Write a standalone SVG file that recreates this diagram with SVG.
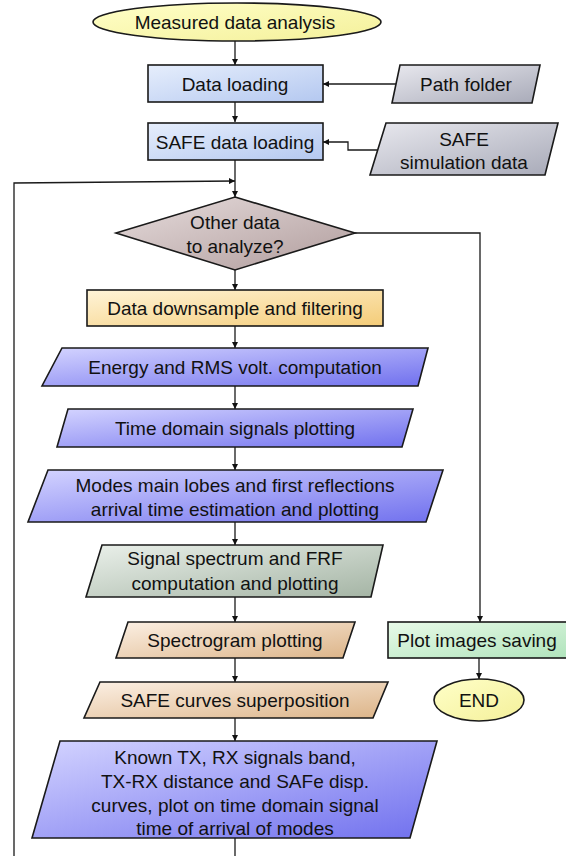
<svg xmlns="http://www.w3.org/2000/svg" width="566" height="856" viewBox="0 0 566 856">
  <defs>
    <linearGradient id="gYellow" x1="0" y1="0" x2="1" y2="1">
      <stop offset="0" stop-color="#ffffc8"/>
      <stop offset="1" stop-color="#f4f09a"/>
    </linearGradient>
    <linearGradient id="gLightBlue" x1="0" y1="0" x2="1" y2="1">
      <stop offset="0" stop-color="#e6eefc"/>
      <stop offset="1" stop-color="#b4c8f0"/>
    </linearGradient>
    <linearGradient id="gGray" x1="0" y1="0" x2="1" y2="1">
      <stop offset="0" stop-color="#e8e8ee"/>
      <stop offset="1" stop-color="#a8aab8"/>
    </linearGradient>
    <linearGradient id="gMauve" x1="0" y1="0" x2="1" y2="1">
      <stop offset="0" stop-color="#e6dcdc"/>
      <stop offset="1" stop-color="#b09c9c"/>
    </linearGradient>
    <linearGradient id="gOrange" x1="0" y1="0" x2="1" y2="1">
      <stop offset="0" stop-color="#fff4d8"/>
      <stop offset="1" stop-color="#f4cc78"/>
    </linearGradient>
    <linearGradient id="gViolet" x1="0" y1="0" x2="1" y2="1">
      <stop offset="0" stop-color="#d4d4ff"/>
      <stop offset="1" stop-color="#7070ee"/>
    </linearGradient>
    <linearGradient id="gSage" x1="0" y1="0" x2="1" y2="1">
      <stop offset="0" stop-color="#eaf0ea"/>
      <stop offset="1" stop-color="#a4b4a4"/>
    </linearGradient>
    <linearGradient id="gPeach" x1="0" y1="0" x2="1" y2="1">
      <stop offset="0" stop-color="#fcf0e4"/>
      <stop offset="1" stop-color="#dcb488"/>
    </linearGradient>
    <linearGradient id="gGreen" x1="0" y1="0" x2="1" y2="1">
      <stop offset="0" stop-color="#e8fae8"/>
      <stop offset="1" stop-color="#b0e4bc"/>
    </linearGradient>
    <marker id="arrow" viewBox="0 0 8 8" refX="8" refY="4" markerWidth="6" markerHeight="6" markerUnits="userSpaceOnUse" orient="auto">
      <path d="M0,0 L8,4 L0,8 Z" fill="#111"/>
    </marker>
  </defs>
  <style>
    .shape { stroke: #1a1a1a; stroke-width: 1.6; }
    .lbl { font-family: "Liberation Sans", Arial, sans-serif; font-size: 19px; fill: #111; text-anchor: middle; }
    .conn { fill: none; stroke: #1a1a1a; stroke-width: 1.3; }
  </style>

  <rect width="566" height="856" fill="#ffffff"/>

  <!-- connectors -->
  <g id="connectors">
    <path class="conn" d="M235,41 V65" marker-end="url(#arrow)"/>
    <path class="conn" d="M235,102 V122" marker-end="url(#arrow)"/>
    <path class="conn" d="M396,84 H323" marker-end="url(#arrow)"/>
    <path class="conn" d="M377,150 H348 V142 H323" marker-end="url(#arrow)"/>
    <path class="conn" d="M235,160 V197" marker-end="url(#arrow)"/>
    <path class="conn" d="M14,856 V183 L235,181" marker-end="url(#arrow)"/>
    <path class="conn" d="M235,270 V290" marker-end="url(#arrow)"/>
    <path class="conn" d="M355,233 H480 V622" marker-end="url(#arrow)"/>
    <path class="conn" d="M235,326 V348" marker-end="url(#arrow)"/>
    <path class="conn" d="M235,386 V409" marker-end="url(#arrow)"/>
    <path class="conn" d="M235,447 V470" marker-end="url(#arrow)"/>
    <path class="conn" d="M235,522 V545" marker-end="url(#arrow)"/>
    <path class="conn" d="M235,597 V622" marker-end="url(#arrow)"/>
    <path class="conn" d="M235,658 V682" marker-end="url(#arrow)"/>
    <path class="conn" d="M235,718 V741" marker-end="url(#arrow)"/>
    <path class="conn" d="M235,838 V856"/>
    <path class="conn" d="M479,658 V679" marker-end="url(#arrow)"/>
  </g>

  <g id="start">
    <ellipse class="shape" cx="237" cy="22" rx="144" ry="19" fill="url(#gYellow)"/>
    <text class="lbl" x="235" y="29">Measured data analysis</text>
  </g>

  <g id="data-loading">
    <rect class="shape" x="148" y="65" width="175" height="37" fill="url(#gLightBlue)"/>
    <text class="lbl" x="235" y="91">Data loading</text>
  </g>

  <g id="path-folder">
    <polygon class="shape" points="400,65 540,65 532,103 392,103" fill="url(#gGray)"/>
    <text class="lbl" x="466" y="91">Path folder</text>
  </g>

  <g id="safe-loading">
    <rect class="shape" x="148" y="123" width="175" height="37" fill="url(#gLightBlue)"/>
    <text class="lbl" x="235" y="149">SAFE data loading</text>
  </g>

  <g id="safe-simulation">
    <polygon class="shape" points="386,123 558,123 545,175 370,175" fill="url(#gGray)"/>
    <text class="lbl" x="464" y="146">SAFE</text>
    <text class="lbl" x="464" y="169">simulation data</text>
  </g>

  <g id="decision">
    <polygon class="shape" points="235,197 355,233 235,270 116,233" fill="url(#gMauve)"/>
    <text class="lbl" x="235" y="229">Other data</text>
    <text class="lbl" x="235" y="253">to analyze?</text>
  </g>

  <g id="downsample">
    <rect class="shape" x="87" y="290" width="296" height="36" fill="url(#gOrange)"/>
    <text class="lbl" x="235" y="315">Data downsample and filtering</text>
  </g>

  <g id="energy-rms">
    <polygon class="shape" points="62,348 428,348 418,386 42,386" fill="url(#gViolet)"/>
    <text class="lbl" x="235" y="374">Energy and RMS volt. computation</text>
  </g>

  <g id="time-domain">
    <polygon class="shape" points="68,409 413,409 402,447 57,447" fill="url(#gViolet)"/>
    <text class="lbl" x="235" y="435">Time domain signals plotting</text>
  </g>

  <g id="modes-arrival">
    <polygon class="shape" points="48,470 443,470 426,522 28,522" fill="url(#gViolet)"/>
    <text class="lbl" x="235" y="492">Modes main lobes and first reflections</text>
    <text class="lbl" x="235" y="516">arrival time estimation and plotting</text>
  </g>

  <g id="spectrum-frf">
    <polygon class="shape" points="102,545 383,545 371,597 86,597" fill="url(#gSage)"/>
    <text class="lbl" x="235" y="565">Signal spectrum and FRF</text>
    <text class="lbl" x="235" y="590">computation and plotting</text>
  </g>

  <g id="spectrogram">
    <polygon class="shape" points="128,622 355,622 343,658 116,658" fill="url(#gPeach)"/>
    <text class="lbl" x="235" y="647">Spectrogram plotting</text>
  </g>

  <g id="safe-curves">
    <polygon class="shape" points="100,682 388,682 373,718 84,718" fill="url(#gPeach)"/>
    <text class="lbl" x="235" y="707">SAFE curves superposition</text>
  </g>

  <g id="known-tx-rx">
    <polygon class="shape" points="60,741 437,741 410,838 32,838" fill="url(#gViolet)"/>
    <text class="lbl" x="235" y="764">Known TX, RX signals band,</text>
    <text class="lbl" x="235" y="788">TX-RX distance and SAFe disp.</text>
    <text class="lbl" x="235" y="812">curves, plot on time domain signal</text>
    <text class="lbl" x="235" y="835">time of arrival of modes</text>
  </g>

  <g id="plot-saving">
    <rect class="shape" x="388" y="622" width="182" height="36" fill="url(#gGreen)"/>
    <text class="lbl" x="477" y="647">Plot images saving</text>
  </g>

  <g id="end">
    <ellipse class="shape" cx="479" cy="700" rx="45" ry="21" fill="url(#gYellow)"/>
    <text class="lbl" x="479" y="707">END</text>
  </g>
</svg>
